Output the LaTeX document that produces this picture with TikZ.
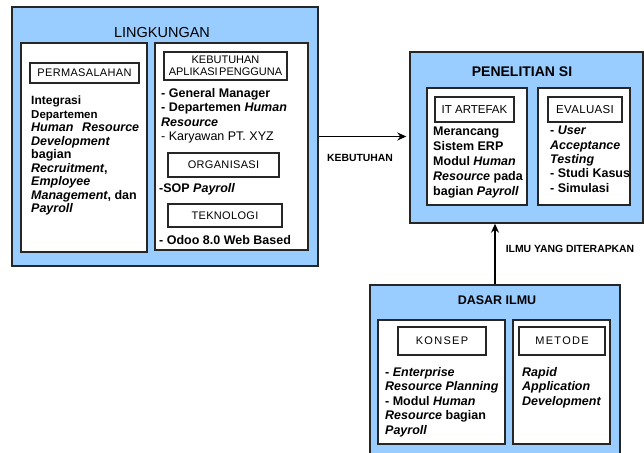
\documentclass[tikz,border=0pt]{standalone}
\usepackage{fontspec}
\setmainfont{Liberation Sans}
\usetikzlibrary{arrows.meta}
\definecolor{skyfill}{RGB}{153,204,255}
\definecolor{edge}{RGB}{38,38,38}

\begin{document}
\begin{tikzpicture}[x=1pt,y=-1pt,
  frame/.style={draw=edge, line width=1.4pt, fill=skyfill, inner sep=0pt},
  panel/.style={draw=edge, line width=1.4pt, fill=white, inner sep=0pt},
  tagbox/.style={draw=edge, line width=1.8pt, fill=white, inner sep=0pt, align=center,
    font=\fontsize{11}{11.5}\selectfont\addfontfeatures{LetterSpace=3}},
  wide/.style={font=\fontsize{11}{11.5}\selectfont\addfontfeatures{LetterSpace=12}},
  body/.style={anchor=north west, inner sep=0pt, align=left},
  flow/.style={line width=1.6pt, draw=black, -{Stealth[length=9pt,width=8pt]}},
  flowlabel/.style={inner sep=0pt, font=\fontsize{10.4}{12}\selectfont\bfseries}
]
\useasboundingbox (0,0) rectangle (644,452);
\clip (0,0) rectangle (644,452);

% ---------- LINGKUNGAN ----------
\node[frame, minimum width=306pt, minimum height=259pt] (ling) at (165,136.5) {};
\node[inner sep=0pt, font=\fontsize{14.5}{16}\selectfont] (lingtitle) at (162,33) {LINGKUNGAN};

\node[panel, minimum width=126pt, minimum height=209pt] (lpanel) at (84,147.5) {};
\node[tagbox, minimum width=109pt, minimum height=20pt] (tagperm) at (84.5,73) {PERMASALAHAN};
\node[body, font=\fontsize{12.5}{13.5}\selectfont\bfseries] (permtext) at (31,96) {%
  {\fontsize{12}{13.5}\selectfont Integrasi}\\
  {\fontsize{11.5}{13.5}\selectfont Departemen}\\
  \makebox[108pt][s]{\textit{Human} \textit{Resource}}\\
  \textit{Development}\\
  bagian\\
  \textit{Recruitment},\\
  \textit{Employee}\\
  \textit{Management}, dan\\
  \textit{Payroll}};

\node[panel, minimum width=153pt, minimum height=207pt] (rpanel) at (231.5,146.5) {};
\node[tagbox, minimum width=123pt, minimum height=28pt,
      font=\fontsize{11}{11.5}\selectfont] (tagneed) at (225.5,66) {KEBUTUHAN\\APLIKASI\hspace{1.5pt}PENGGUNA};
\node[body, font=\fontsize{12.5}{14.5}\selectfont\bfseries] (needtext) at (161,88) {%
  - General Manager\\
  - Departemen \textit{Human}\\
  \textit{Resource}\\
  {\mdseries - Karyawan PT. XYZ}};

\node[tagbox, minimum width=111pt, minimum height=24pt] (tagorg) at (223.5,165) {ORGANISASI};
\node[body, font=\fontsize{12.5}{14.5}\selectfont\bfseries] (orgtext) at (159,183) {-SOP \textit{Payroll}};

\node[tagbox, minimum width=114pt, minimum height=23pt] (tagtech) at (225,215.5) {TEKNOLOGI};
\node[body, font=\fontsize{12.5}{14.5}\selectfont\bfseries] (techtext) at (159,235) {- Odoo 8.0 Web Based};

% ---------- PENELITIAN SI ----------
\node[frame, minimum width=233pt, minimum height=171pt] (pen) at (526.5,137.5) {};
\node[inner sep=0pt, font=\fontsize{14}{16}\selectfont\bfseries] (pentitle) at (522,72) {PENELITIAN SI};

\node[panel, minimum width=100pt, minimum height=117pt] (itpanel) at (477,146.5) {};
\node[tagbox, minimum width=79pt, minimum height=25pt,
      font=\fontsize{11.5}{12}\selectfont] (tagit) at (474.5,109.5) {IT ARTEFAK};
\node[body, font=\fontsize{12.5}{15}\selectfont\bfseries] (ittext) at (433,127) {%
  Merancang\\
  Sistem ERP\\
  Modul \textit{Human}\\
  \textit{Resource} pada\\
  bagian \textit{Payroll}};

\node[panel, minimum width=92pt, minimum height=117pt] (evpanel) at (584,146.5) {};
\node[tagbox, minimum width=74pt, minimum height=25pt,
      font=\fontsize{11.5}{12}\selectfont\addfontfeatures{LetterSpace=3}] (tagev) at (585,109.5) {EVALUASI};
\node[body, font=\fontsize{12.5}{14.3}\selectfont\bfseries] (evtext) at (550,126) {%
  - \textit{User}\\
  \textit{Acceptance}\\
  \textit{Testing}\\
  - Studi Kasus\\
  - Simulasi};

% ---------- DASAR ILMU ----------
\node[frame, minimum width=250pt, minimum height=185pt] (dasar) at (495,377.5) {};
\node[inner sep=0pt, font=\fontsize{12.5}{14}\selectfont\bfseries] (dasartitle) at (497,300) {DASAR ILMU};

\node[panel, minimum width=127pt, minimum height=124pt] (kpanel) at (441.5,382) {};
\node[tagbox, wide, minimum width=88pt, minimum height=28pt] (tagk) at (442,341) {KONSEP};
\node[body, font=\fontsize{12.5}{14.5}\selectfont\bfseries] (ktext) at (385,367) {%
  - \textit{Enterprise}\\
  \textit{Resource Planning}\\
  - Modul \textit{Human}\\
  \textit{Resource} bagian\\
  \textit{Payroll}};

\node[panel, minimum width=97pt, minimum height=124pt] (mpanel) at (561.5,382) {};
\node[tagbox, wide, minimum width=86pt, minimum height=28pt] (tagm) at (562,341) {METODE};
\node[body, font=\fontsize{12.5}{14.5}\selectfont\bfseries] (mtext) at (522,367) {%
  \textit{Rapid}\\
  \textit{Application}\\
  \textit{Development}};

% ---------- connectors ----------
\draw[flow, shorten >=3pt] (ling.east) -- (ling.east -| pen.west);
\node[flowlabel] (needlabel) at (360,158) {KEBUTUHAN};

\draw[flow] (dasar.north) -- (dasar.north |- pen.south);
\node[flowlabel] (knowlabel) at (570,249) {ILMU YANG DITERAPKAN};
\end{tikzpicture}
\end{document}
